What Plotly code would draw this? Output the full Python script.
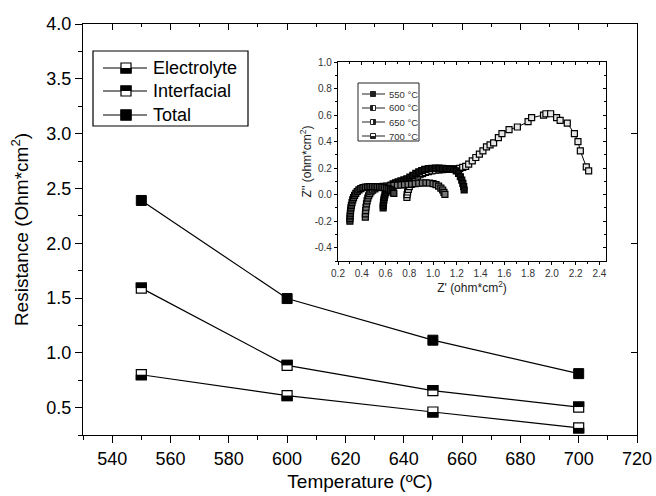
import plotly.graph_objects as go

# ---------------- data ----------------
temps = [550, 600, 650, 700]
electrolyte = [0.80, 0.61, 0.46, 0.315]
interfacial = [1.59, 0.885, 0.655, 0.505]
total = [2.39, 1.495, 1.115, 0.81]

main_x_ticks = [540, 560, 580, 600, 620, 640, 660, 680, 700, 720]
main_y_ticks = [0.5, 1.0, 1.5, 2.0, 2.5, 3.0, 3.5, 4.0]

# inset Nyquist curves (Z', Z'')
z550_x = [0.780, 0.782, 0.786, 0.792, 0.800, 0.810, 0.822, 0.836, 0.852, 0.870,
          0.890, 0.912, 0.936, 0.962, 0.990, 1.020, 1.050, 1.080, 1.110, 1.140,
          1.170, 1.200, 1.225, 1.250, 1.275, 1.300, 1.330, 1.360, 1.390, 1.420,
          1.450, 1.480, 1.510, 1.550, 1.580, 1.640, 1.710, 1.800, 1.830, 1.930,
          1.950, 1.990, 2.040, 2.070, 2.130, 2.190, 2.220, 2.240, 2.290, 2.310]
z550_y = [-0.020, 0.000, 0.020, 0.040, 0.060, 0.080, 0.098, 0.114, 0.128, 0.140,
          0.150, 0.159, 0.167, 0.174, 0.180, 0.184, 0.187, 0.189, 0.190, 0.191,
          0.192, 0.194, 0.198, 0.205, 0.213, 0.230, 0.255, 0.280, 0.305, 0.330,
          0.360, 0.375, 0.390, 0.430, 0.460, 0.490, 0.510, 0.550, 0.580, 0.600,
          0.610, 0.610, 0.580, 0.560, 0.540, 0.460, 0.400, 0.330, 0.210, 0.180]

z600_x = [0.580, 0.581, 0.583, 0.586, 0.590, 0.595, 0.601, 0.609, 0.619, 0.631,
          0.646, 0.664, 0.684, 0.706, 0.730, 0.755, 0.780, 0.805, 0.830, 0.855,
          0.880, 0.905, 0.930, 0.960, 0.990, 1.020, 1.050, 1.080, 1.110, 1.140,
          1.170, 1.195, 1.215, 1.230, 1.242, 1.251, 1.258, 1.262]
z600_y = [-0.100, -0.080, -0.060, -0.040, -0.020, -0.002, 0.016, 0.032, 0.047, 0.060,
          0.072, 0.082, 0.090, 0.097, 0.104, 0.111, 0.120, 0.132, 0.146, 0.160,
          0.172, 0.182, 0.190, 0.196, 0.199, 0.200, 0.200, 0.199, 0.197, 0.194,
          0.190, 0.180, 0.160, 0.135, 0.110, 0.085, 0.060, 0.035]

z650_x = [0.430, 0.431, 0.433, 0.436, 0.440, 0.445, 0.451, 0.458, 0.467, 0.478,
          0.492, 0.510, 0.530, 0.555, 0.580, 0.610, 0.640, 0.670, 0.700, 0.730,
          0.760, 0.790, 0.820, 0.850, 0.880, 0.910, 0.940, 0.970, 1.000, 1.025,
          1.047, 1.066, 1.081, 1.092, 1.100]
z650_y = [-0.170, -0.145, -0.120, -0.095, -0.070, -0.047, -0.026, -0.008, 0.008, 0.022,
          0.034, 0.044, 0.052, 0.058, 0.062, 0.065, 0.067, 0.069, 0.071, 0.073,
          0.075, 0.077, 0.080, 0.083, 0.086, 0.088, 0.089, 0.088, 0.083, 0.075,
          0.064, 0.050, 0.035, 0.018, 0.002]

z700_x = [0.300, 0.301, 0.302, 0.304, 0.306, 0.309, 0.313, 0.318, 0.324, 0.331,
          0.340, 0.350, 0.362, 0.376, 0.392, 0.410, 0.430, 0.450, 0.470, 0.490,
          0.510, 0.530, 0.550, 0.570, 0.590, 0.610, 0.628, 0.643, 0.655, 0.664, 0.670]
z700_y = [-0.200, -0.180, -0.160, -0.140, -0.120, -0.100, -0.080, -0.060, -0.040, -0.022,
          -0.006, 0.010, 0.024, 0.036, 0.046, 0.053, 0.057, 0.059, 0.060, 0.060,
          0.060, 0.059, 0.058, 0.056, 0.053, 0.049, 0.043, 0.036, 0.028, 0.019, 0.010]

inset_x_ticks = [0.2, 0.4, 0.6, 0.8, 1.0, 1.2, 1.4, 1.6, 1.8, 2.0, 2.2, 2.4]
inset_y_ticks = [-0.4, -0.2, 0.0, 0.2, 0.4, 0.6, 0.8, 1.0]
inset_y_labels = ["-0.4", "-0.2", "0.0", "0.2", "0.4", "0.6", "0.8", "1.0"]

main_legend = ["Electrolyte", "Interfacial", "Total"]
inset_legend = ["550 °C", "600 °C", "650 °C", "700 °C"]

# ---------------- layout helpers ----------------
L, T, W, H = 83, 24, 554, 411
FIG_W, FIG_H = 656, 496


def fx(px):
    return (px - L) / W


def fy(py):
    return (T + H - py) / H


FONT = "Liberation Sans, Arial, sans-serif"

fig = go.Figure()

line_style = dict(color="black", width=1.2)
fig.add_trace(go.Scatter(x=temps, y=total, mode="lines+markers", line=line_style,
                         marker=dict(symbol="square", size=10, color="black",
                                     line=dict(color="black", width=1)),
                         showlegend=False, hoverinfo="skip"))
fig.add_trace(go.Scatter(x=temps, y=interfacial, mode="lines+markers", line=line_style,
                         marker=dict(symbol="square", size=10, color="white",
                                     line=dict(color="black", width=1.2)),
                         showlegend=False, hoverinfo="skip"))
fig.add_trace(go.Scatter(x=temps, y=electrolyte, mode="lines+markers", line=line_style,
                         marker=dict(symbol="square", size=10, color="white",
                                     line=dict(color="black", width=1.2)),
                         showlegend=False, hoverinfo="skip"))

# dummy trace to realise the mirror axes (top / right)
fig.add_trace(go.Scatter(x=[600], y=[1.0], xaxis="x2", yaxis="y2", mode="markers",
                         marker=dict(opacity=0), showlegend=False, hoverinfo="skip"))

# inset curves
inset_fill = ["#e6e6e6", "#111111", "#777777", "#444444"]
for (xs, ys), fc in zip([(z550_x, z550_y), (z600_x, z600_y), (z650_x, z650_y), (z700_x, z700_y)],
                        inset_fill):
    fig.add_trace(go.Scatter(x=xs, y=ys, xaxis="x3", yaxis="y3", mode="lines+markers",
                             line=dict(color="black", width=1),
                             marker=dict(symbol="square", size=6, color=fc,
                                         line=dict(color="#000000", width=1.2)),
                             showlegend=False, hoverinfo="skip"))
fig.add_trace(go.Scatter(x=[1.0], y=[0.0], xaxis="x4", yaxis="y4", mode="markers",
                         marker=dict(opacity=0), showlegend=False, hoverinfo="skip"))

shapes = []
annotations = []

# half-filled markers on the data points
for t, v in zip(temps, electrolyte):
    shapes.append(dict(type="rect", xref="x", yref="y", xsizemode="pixel", ysizemode="pixel",
                       xanchor=t, yanchor=v, x0=-5.6, x1=5.6, y0=-5.6, y1=0,
                       fillcolor="black", line=dict(width=0)))
for t, v in zip(temps, interfacial):
    shapes.append(dict(type="rect", xref="x", yref="y", xsizemode="pixel", ysizemode="pixel",
                       xanchor=t, yanchor=v, x0=-5.6, x1=5.6, y0=0, y1=5.6,
                       fillcolor="black", line=dict(width=0)))

# main legend (manual)
shapes.append(dict(type="rect", xref="paper", yref="paper", x0=fx(93), x1=fx(248),
                   y0=fy(126), y1=fy(51), line=dict(color="black", width=1.2),
                   fillcolor="white", layer="above"))
leg_rows = [68, 91, 115]
half = [(-5.6, 0), (0, 5.6), (-5.6, 5.6)]
for name, py, (h0, h1) in zip(main_legend, leg_rows, half):
    shapes.append(dict(type="line", xref="paper", yref="paper", x0=fx(103), x1=fx(147),
                       y0=fy(py), y1=fy(py), line=dict(color="black", width=1.2)))
    shapes.append(dict(type="rect", xref="paper", yref="paper", xsizemode="pixel",
                       ysizemode="pixel", xanchor=fx(126), yanchor=fy(py),
                       x0=-5, x1=5, y0=-5, y1=5, fillcolor="white",
                       line=dict(color="black", width=1.2)))
    shapes.append(dict(type="rect", xref="paper", yref="paper", xsizemode="pixel",
                       ysizemode="pixel", xanchor=fx(126), yanchor=fy(py),
                       x0=-5.6, x1=5.6, y0=h0, y1=h1, fillcolor="black",
                       line=dict(width=0)))
    annotations.append(dict(xref="paper", yref="paper", x=fx(151), y=fy(py), text=name,
                            showarrow=False, xanchor="left", yanchor="middle",
                            font=dict(family=FONT, size=18, color="black")))

# inset legend (manual)
shapes.append(dict(type="rect", xref="paper", yref="paper", x0=fx(358), x1=fx(419),
                   y0=fy(141), y1=fy(83), line=dict(color="#222222", width=1),
                   fillcolor="white", layer="above"))
ileg_rows = [94, 108, 122, 136]
ileg_half = [(-2.5, 2.5, -2.5, 2.5), (-2.5, 0, -2.5, 2.5), (0, 2.5, -2.5, 2.5), (-2.5, 2.5, -2.5, 0)]
for name, py, (a0, a1, b0, b1) in zip(inset_legend, ileg_rows, ileg_half):
    shapes.append(dict(type="line", xref="paper", yref="paper", x0=fx(362), x1=fx(385),
                       y0=fy(py), y1=fy(py), line=dict(color="#222222", width=1)))
    shapes.append(dict(type="rect", xref="paper", yref="paper", xsizemode="pixel",
                       ysizemode="pixel", xanchor=fx(373), yanchor=fy(py),
                       x0=-2.5, x1=2.5, y0=-2.5, y1=2.5, fillcolor="white",
                       line=dict(color="#222222", width=1)))
    shapes.append(dict(type="rect", xref="paper", yref="paper", xsizemode="pixel",
                       ysizemode="pixel", xanchor=fx(373), yanchor=fy(py),
                       x0=a0, x1=a1, y0=b0, y1=b1, fillcolor="#222222",
                       line=dict(width=0)))
    annotations.append(dict(xref="paper", yref="paper", x=fx(387), y=fy(py), text=name,
                            showarrow=False, xanchor="left", yanchor="middle",
                            font=dict(family=FONT, size=9.5, color="#333333")))

axis_common = dict(showgrid=False, zeroline=False, showline=True, linecolor="black",
                   linewidth=1.2, tickcolor="black", automargin=False)

inset_dom_x = [fx(338), fx(606)]
inset_dom_y = [fy(261), fy(62)]

fig.update_layout(
    width=FIG_W, height=FIG_H,
    margin=dict(l=L, r=FIG_W - L - W, t=T, b=FIG_H - T - H, autoexpand=False),
    paper_bgcolor="white", plot_bgcolor="white",
    font=dict(family=FONT, color="black"),
    xaxis=dict(**axis_common, range=[530, 720], tickvals=main_x_ticks, ticks="outside",
               ticklen=7, tickwidth=1.2,
               minor=dict(dtick=10, tick0=530, ticks="outside", ticklen=4, tickcolor="black"),
               tickfont=dict(size=18),
               title=dict(text="Temperature (ºC)", font=dict(size=19), standoff=6)),
    yaxis=dict(**axis_common, range=[0.25, 4.0], tickvals=main_y_ticks, tickformat=".1f",
               ticks="outside", ticklen=7, tickwidth=1.2,
               minor=dict(dtick=0.25, tick0=0.25, ticks="outside", ticklen=4, tickcolor="black"),
               tickfont=dict(size=18),
               title=dict(text="Resistance (Ohm*cm<sup>2</sup>)", font=dict(size=19), standoff=12)),
    xaxis2=dict(**axis_common, overlaying="x", side="top", anchor="y", range=[530, 720],
                tickvals=main_x_ticks, ticks="inside", ticklen=6, showticklabels=False,
                minor=dict(dtick=10, tick0=530, ticks="inside", ticklen=3, tickcolor="black")),
    yaxis2=dict(**axis_common, overlaying="y", side="right", anchor="x", range=[0.25, 4.0],
                tickvals=[1.0, 2.0, 3.0, 4.0], ticks="inside", ticklen=6, showticklabels=False),
    xaxis3=dict(**axis_common, domain=inset_dom_x, anchor="y3", range=[0.2, 2.456],
                tickvals=inset_x_ticks, tickformat=".1f", ticks="outside", ticklen=3,
                tickwidth=1, minor=dict(dtick=0.1, tick0=0.2, ticks="outside", ticklen=2,
                                        tickcolor="black"),
                tickfont=dict(size=10, color="#333333"),
                title=dict(text="Z' (ohm*cm<sup>2</sup>)", font=dict(size=12, color="#222222"),
                           standoff=0)),
    yaxis3=dict(**axis_common, domain=inset_dom_y, anchor="x3", range=[-0.5, 1.0],
                tickvals=inset_y_ticks, ticktext=inset_y_labels, ticks="outside", ticklen=3,
                tickwidth=1, minor=dict(dtick=0.1, tick0=0.0, ticks="outside", ticklen=2,
                                        tickcolor="black"),
                tickfont=dict(size=10, color="#333333"),
                title=dict(text="Z'' (ohm*cm<sup>2</sup>)", font=dict(size=12, color="#222222"),
                           standoff=0)),
    xaxis4=dict(**axis_common, overlaying="x3", side="top", anchor="y3", range=[0.2, 2.456],
                tickvals=inset_x_ticks, ticks="inside", ticklen=3, showticklabels=False,
                minor=dict(dtick=0.1, tick0=0.2, ticks="inside", ticklen=2, tickcolor="black")),
    yaxis4=dict(**axis_common, overlaying="y3", side="right", anchor="x3", range=[-0.5, 1.0],
                tickvals=inset_y_ticks, ticks="inside", ticklen=3, showticklabels=False,
                minor=dict(dtick=0.1, tick0=0.0, ticks="inside", ticklen=2, tickcolor="black")),
    shapes=shapes,
    annotations=annotations,
    showlegend=False,
)

fig.write_html("out.html", config={"displayModeBar": False},
               post_script="document.body.style.margin='0px';document.body.style.overflow='hidden';")
